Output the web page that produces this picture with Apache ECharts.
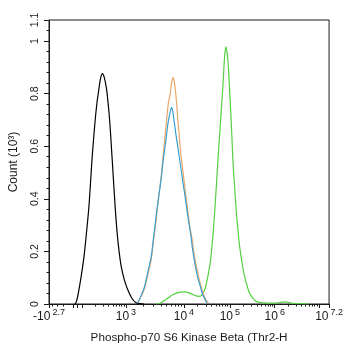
<!DOCTYPE html>
<html>
<head>
<meta charset="utf-8">
<script src="https://cdn.jsdelivr.net/npm/echarts@6/dist/echarts.min.js"></script>
<style>html,body{margin:0;padding:0;background:#fff}#c{width:346px;height:350px}</style>
</head>
<body>
<div id="c"></div>
<script>
// x values are display channels (0..1024) of the biexponential axis
var xMin = 0, xMax = 1024;
// labelled ticks
var xTickSigns = ['-', '', '', '', '', ''];
var xTickExps = ['2.7', '3', '4', '5', '6', '7.2'];
var xTickChannels = [0, 281.3, 493.3, 661.1, 825.3, 1024];
// decade positions (10^2 .. 10^7) and near-zero marks
var decadeExps = [2, 3, 4, 5, 6, 7];
var decadeChannels = [122.2, 281.3, 493.3, 661.1, 825.3, 987.0];
var negDecadeChannels = [89.8, 0]; // -10^2, -10^2.7
var zeroChannel = 104.2;

var yTickValues = [0, 0.2, 0.4, 0.6, 0.8, 1, 1.08];
var yTickLabels = ['0', '0.2', '0.4', '0.6', '0.8', '1', '1.1'];
var yMinorValues = [0.04,0.08,0.12,0.16,0.24,0.28,0.32,0.36,0.44,0.48,0.52,0.56,0.64,0.68,0.72,0.76,0.84,0.88,0.92,0.96,1.04];

var blackCurve = [[95,0],[100,0.008],[106,0.035],[117,0.1],[128,0.181],[137,0.27],[146,0.371],[152,0.465],[158,0.561],[164,0.64],[170,0.712],[176,0.77],[182,0.814],[188,0.855],[195,0.876],[202,0.862],[210,0.82],[216,0.765],[222,0.695],[228,0.6],[234,0.5],[240,0.40],[246,0.31],[254,0.22],[264,0.143],[276,0.09],[288,0.054],[303,0.022],[318,0.005],[333,0.002],[348,0]];
var orangeCurve = [[323,0.004],[332,0.02],[340,0.035],[349.6,0.06],[361,0.11],[373.7,0.17],[382,0.24],[391.6,0.32],[400,0.4],[409.6,0.48],[418,0.57],[427.6,0.675],[436,0.76],[443,0.80],[448,0.84],[453.8,0.862],[458,0.845],[463.5,0.80],[469,0.73],[475.4,0.649],[481,0.58],[487.6,0.523],[496,0.45],[505.5,0.371],[514,0.30],[523.5,0.244],[532,0.18],[541.5,0.13],[550,0.09],[559.4,0.054],[571.3,0.02],[583.2,0.004]];
var blueCurve = [[323,0.004],[332,0.02],[340,0.04],[349.6,0.067],[361,0.12],[373.7,0.18],[382,0.25],[391.6,0.333],[400,0.4],[409.6,0.472],[418,0.55],[427.6,0.624],[434,0.68],[439.4,0.712],[444,0.735],[448,0.748],[452,0.735],[457,0.70],[463.5,0.649],[472,0.59],[481.5,0.523],[490,0.46],[499.4,0.396],[508,0.33],[517.4,0.27],[526,0.2],[535.4,0.143],[544,0.1],[553.3,0.067],[562,0.035],[571.3,0.016],[577.4,0.004]];
var greenCurve = [[391.6,0],[409.6,0.005],[431.2,0.02],[452.7,0.035],[474.3,0.044],[493.3,0.046],[510.2,0.043],[528.2,0.035],[547.2,0.029],[558,0.033],[565,0.045],[571.3,0.06],[580,0.1],[589.3,0.156],[595,0.21],[601.1,0.282],[607,0.37],[613.3,0.472],[619,0.57],[625.2,0.662],[630,0.74],[634.9,0.814],[638.5,0.88],[642.1,0.94],[646.7,0.978],[650.5,0.96],[655,0.915],[660,0.82],[664.7,0.725],[669,0.63],[673,0.535],[679,0.44],[685.2,0.346],[691,0.28],[697,0.219],[706,0.155],[715,0.105],[724,0.07],[733,0.042],[745,0.022],[757.1,0.01],[775,0.005],[793,0.004],[810,0.003],[826.4,0.003],[845,0.006],[864.8,0.008],[880,0.005],[894.7,0.002],[920,0.001],[948.6,0]];

var majorTicks = [xMin].concat(negDecadeChannels.slice(0,1), [zeroChannel], decadeChannels, [xMax]);
var minorTicks = [];
for (var i = 0; i < decadeChannels.length - 1; i++) {
  for (var m = 2; m <= 9; m++) {
    minorTicks.push(decadeChannels[i] + Math.log10(m) * (decadeChannels[i+1] - decadeChannels[i]));
  }
}
// negative side: -200, -300, -400
var negSpan = (negDecadeChannels[0] - negDecadeChannels[1]) / 0.7;
[2,3,4].forEach(function (m) { minorTicks.push(negDecadeChannels[0] - Math.log10(m) * negSpan); });

var font = 'Liberation Sans, Arial, sans-serif';
var ink = '#1a1a1a';

function xLabel(v) {
  var k = -1, best = 1e9;
  for (var i = 0; i < xTickChannels.length; i++) {
    var d = Math.abs(xTickChannels[i] - v);
    if (d < best) { best = d; k = i; }
  }
  return '{b|' + xTickSigns[k] + '10}{s|' + xTickExps[k] + '}';
}
function yLabel(v) {
  var k = 0, best = 1e9;
  for (var i = 0; i < yTickValues.length; i++) {
    var d = Math.abs(yTickValues[i] - v);
    if (d < best) { best = d; k = i; }
  }
  return yTickLabels[k];
}

function line(data, color, z) {
  return { type: 'line', data: data, smooth: 0.3, symbol: 'none', z: z,
    lineStyle: { color: color, width: 1.2 }, xAxisIndex: 0, yAxisIndex: 0 };
}

var chart = echarts.init(document.getElementById('c'), null, { renderer: 'canvas' });
chart.setOption({
  animation: false,
  backgroundColor: '#fff',
  grid: { left: 46, top: 20, right: 15, bottom: 46, show: true, borderColor: ink, borderWidth: 1, backgroundColor: 'transparent' },
  xAxis: [{
    type: 'value', min: xMin, max: xMax, position: 'bottom',
    name: 'Phospho-p70 S6 Kinase Beta (Thr2-H', nameLocation: 'middle', nameGap: 28,
    nameTextStyle: { fontFamily: font, fontSize: 11.7, color: ink },
    axisLine: { show: true, onZero: false, lineStyle: { color: ink, width: 1 } },
    axisTick: { show: true, length: 4, customValues: majorTicks, lineStyle: { color: ink } },
    axisLabel: { show: true, customValues: xTickChannels, formatter: xLabel, margin: 4, color: ink,
      rich: { b: { fontFamily: font, fontSize: 12, lineHeight: 15, verticalAlign: 'bottom', color: ink },
              s: { fontFamily: font, fontSize: 9, lineHeight: 9, verticalAlign: 'top', padding: [0, 0, 0, 2], color: ink } } },
    splitLine: { show: false }
  }, {
    type: 'value', min: xMin, max: xMax, position: 'bottom',
    axisLine: { show: false },
    axisTick: { show: true, length: 2.5, customValues: minorTicks, lineStyle: { color: ink } },
    axisLabel: { show: false }, splitLine: { show: false }
  }],
  yAxis: [{
    type: 'value', min: 0, max: 1.08, position: 'left',
    name: 'Count (10³)', nameLocation: 'middle', nameGap: 29, nameRotate: 90,
    nameTextStyle: { fontFamily: font, fontSize: 12, color: ink },
    axisLine: { show: true, onZero: false, lineStyle: { color: ink, width: 1 } },
    axisTick: { show: true, length: 5, customValues: yTickValues, lineStyle: { color: ink } },
    axisLabel: { show: true, customValues: yTickValues, formatter: yLabel, rotate: 90, margin: 8,
      fontFamily: font, fontSize: 10.5, color: ink },
    splitLine: { show: false }
  }, {
    type: 'value', min: 0, max: 1.08, position: 'left',
    axisLine: { show: false },
    axisTick: { show: true, length: 2.5, customValues: yMinorValues, lineStyle: { color: ink } },
    axisLabel: { show: false }, splitLine: { show: false }
  }],
  series: [
    line(blackCurve, '#000000', 2),
    line(greenCurve, '#55d042', 3),
    line(orangeCurve, '#e8a868', 4),
    line(blueCurve, '#3a9fd0', 5)
  ]
});
</script>
</body>
</html>
